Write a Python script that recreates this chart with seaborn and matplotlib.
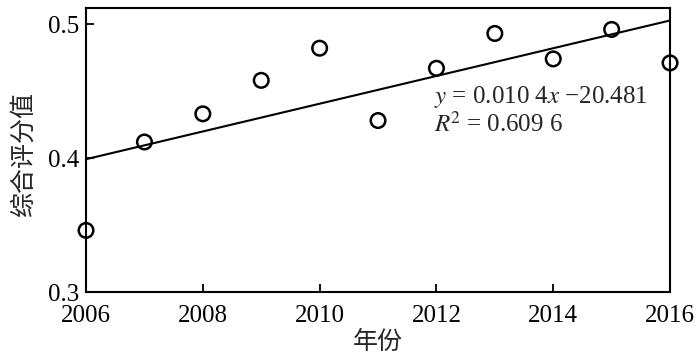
import matplotlib
matplotlib.use("Agg")
import matplotlib.pyplot as plt
import pandas as pd
import seaborn as sns

# data
years = [2006, 2007, 2008, 2009, 2010, 2011, 2012, 2013, 2014, 2015, 2016]
scores = [0.346, 0.412, 0.433, 0.458, 0.482, 0.428, 0.467, 0.493, 0.474, 0.496, 0.471]
x_ticks = [2006, 2008, 2010, 2012, 2014, 2016]
y_ticks = [0.3, 0.4, 0.5]

df = pd.DataFrame({"year": years, "score": scores})

sns.set_theme(style="ticks")
plt.rcParams["font.family"] = ["Liberation Serif", "Noto Sans CJK SC"]
plt.rcParams["mathtext.fontset"] = "stix"

fig = plt.figure(figsize=(7.0, 3.59), dpi=100)
ax = fig.add_axes([0.1229, 0.1866, 0.8343, 0.7911])

sns.regplot(
    data=df, x="year", y="score", ax=ax, ci=None, truncate=True,
    scatter_kws={"s": 110, "facecolors": "none", "edgecolors": "black",
                 "linewidths": 1.8, "alpha": 1, "clip_on": False, "zorder": 3},
    line_kws={"color": "black", "linewidth": 1.5},
)

ax.set_xlim(2006, 2016)
ax.set_ylim(0.3, 0.512)
ax.set_xticks(x_ticks)
ax.set_yticks(y_ticks)
ax.set_yticklabels(["0.3", "0.4", "0.5"])
ax.tick_params(direction="in", length=6, width=1.3, labelsize=18, colors="black")
ax.tick_params(axis="x", pad=9)
ax.tick_params(axis="y", pad=5)
for spine in ax.spines.values():
    spine.set_visible(True)
    spine.set_linewidth(1.5)
    spine.set_color("black")

ax.set_xlabel("年份", family=["Noto Sans CJK SC"], fontsize=18, fontweight="medium", labelpad=2)
ax.set_ylabel("综合评分值", family=["Noto Sans CJK SC"], fontsize=18, fontweight="medium")
ax.yaxis.set_label_coords(-0.085, 0.485)

ax.text(2011.95, 0.4555, "$y$ = 0.010 4$x$ \u221220.481", fontsize=18, va="top", ha="left")
ax.text(2011.95, 0.4345, "$R^{\\!2}$ = 0.609 6", fontsize=18, va="top", ha="left")

fig.savefig("out.png", dpi=100)
